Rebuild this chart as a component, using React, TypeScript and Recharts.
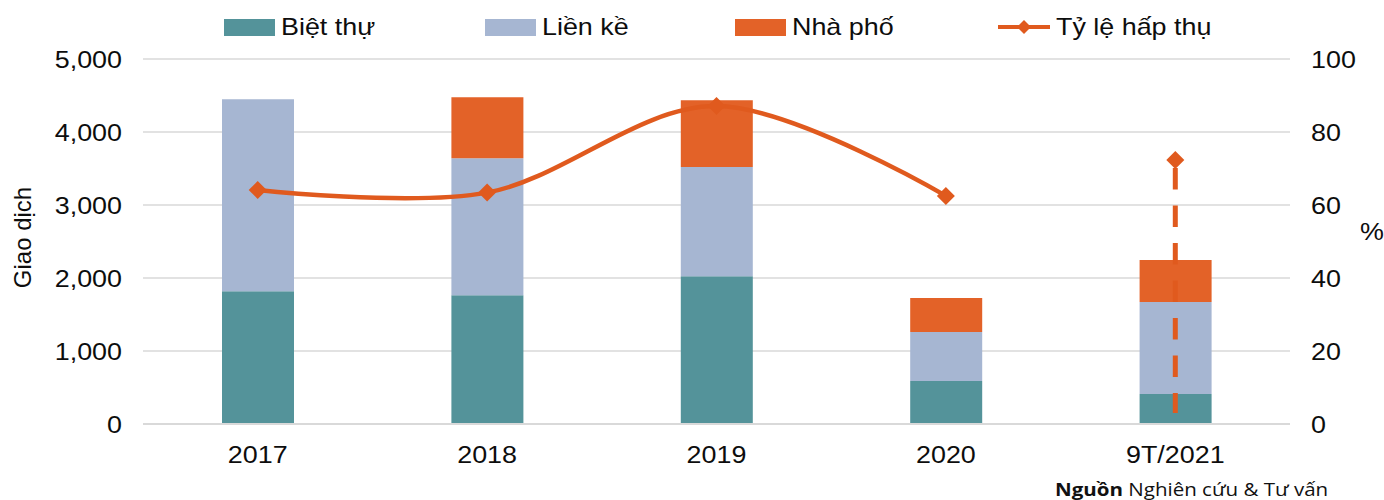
import {
  ComposedChart,
  Bar,
  Line,
  XAxis,
  YAxis,
  CartesianGrid,
  Legend,
  ReferenceLine,
} from "recharts";

// số liệu
const categories = ["2017", "2018", "2019", "2020", "9T/2021"];
const bietThu = [1820, 1765, 2025, 590, 410];
const lienKe = [2630, 1875, 1495, 670, 1260];
const nhaPho = [0, 835, 915, 465, 575];
const tyLeHapThu = [64.1, 63.4, 87.1, 62.5, null];
const tyLe2021 = [null, null, null, null, 72.3];
const tyLe2021Low = 3;

const leftTicks = [0, 1000, 2000, 3000, 4000, 5000];
const rightTicks = [0, 20, 40, 60, 80, 100];

const TEAL = "#54939A";
const BLUE = "#A6B6D2";
const ORANGE = "#E36228";
const LINE = "#E05A1E";
const FONT = "'Liberation Sans', Arial, sans-serif";
const SX = 1.12; // chữ trong ảnh gốc hơi bị kéo giãn ngang

const data = categories.map((name, i) => ({
  name,
  bietThu: bietThu[i],
  lienKe: lienKe[i],
  nhaPho: nhaPho[i],
  tyLe: tyLeHapThu[i],
  tyLe2021: tyLe2021[i],
}));

// đường cong kiểu cardinal (giống smooth line của Excel)
function cardinalCurve(context: any) {
  const k = 1 / 6;
  let x0 = NaN, x1 = NaN, x2 = NaN, y0 = NaN, y1 = NaN, y2 = NaN;
  let pt = 0;
  let line = NaN;
  const seg = (x: number, y: number) => {
    context.bezierCurveTo(
      x1 + k * (x2 - x0),
      y1 + k * (y2 - y0),
      x2 + k * (x1 - x),
      y2 + k * (y1 - y),
      x2,
      y2
    );
  };
  return {
    areaStart() { line = 0; },
    areaEnd() { line = NaN; },
    lineStart() {
      x0 = x1 = x2 = y0 = y1 = y2 = NaN;
      pt = 0;
    },
    lineEnd() {
      if (pt === 2) context.lineTo(x2, y2);
      else if (pt === 3) seg(x1, y1);
      if (line || (line !== 0 && pt === 1)) context.closePath();
      line = 1 - line;
    },
    point(x: number, y: number) {
      x = +x; y = +y;
      if (pt === 0) {
        pt = 1;
        line ? context.lineTo(x, y) : context.moveTo(x, y);
      } else if (pt === 1) {
        pt = 2;
        x1 = x; y1 = y;
      } else {
        pt = 3;
        seg(x, y);
      }
      x0 = x1; x1 = x2; x2 = x;
      y0 = y1; y1 = y2; y2 = y;
    },
  };
}

const Diamond = (props: any) => {
  const { cx, cy, value, index } = props;
  if (cx == null || cy == null || value == null) return <g key={index} />;
  const r = 9;
  return (
    <path
      key={index}
      d={`M${cx},${cy - r}L${cx + r},${cy}L${cx},${cy + r}L${cx - r},${cy}Z`}
      fill={LINE}
    />
  );
};

const textStyle = { fontFamily: FONT, fontSize: 24, fill: "#0d0d0d" };

const makeTick = (anchor: "start" | "end" | "middle", fmt?: (v: any) => string) => (props: any) => {
  const { x, y, payload } = props;
  const v = fmt ? fmt(payload.value) : String(payload.value);
  return (
    <text
      transform={`translate(${x},${y}) scale(${SX},1)`}
      x={0}
      y={0}
      textAnchor={anchor}
      dy={anchor === "middle" ? "0.71em" : "0.36em"}
      style={textStyle}
    >
      {v}
    </text>
  );
};

const legendLeft: Record<string, number> = {
  "Biệt thự": 224,
  "Liền kề": 485,
  "Nhà phố": 735,
  "Tỷ lệ hấp thụ": 998,
};

// chú thích tự vẽ cho giống Excel
const renderLegend = (props: any) => {
  const items = (props.payload || []).filter((p: any) => p.value !== "_2021");
  return (
    <div style={{ position: "relative", width: 1384, height: 59, fontFamily: FONT, fontSize: 24, color: "#0d0d0d" }}>
      {items.map((item: any) => (
        <div
          key={item.value}
          style={{
            position: "absolute",
            left: legendLeft[item.value] ?? 0,
            top: 12,
            height: 30,
            display: "flex",
            alignItems: "center",
            whiteSpace: "nowrap",
          }}
        >
          {item.type === "line" ? (
            <svg width={52} height={20}>
              <line x1={0} y1={10} x2={52} y2={10} stroke={LINE} strokeWidth={4} />
              <path d="M26,3L33,10L26,17L19,10Z" fill={LINE} />
            </svg>
          ) : (
            <div style={{ width: 51, height: 17, background: item.color }} />
          )}
          <span
            style={{
              marginLeft: 6,
              display: "inline-block",
              transform: `scaleX(${SX})`,
              transformOrigin: "left center",
            }}
          >
            {item.value}
          </span>
        </div>
      ))}
    </div>
  );
};

export default function App() {
  return (
    <div style={{ position: "relative", width: 1384, height: 500, background: "#fff" }}>
      <style>{`body{margin:0}`}</style>
      <ComposedChart
        width={1384}
        height={500}
        data={data}
        margin={{ top: 0, right: 0, bottom: 16, left: 0 }}
        barCategoryGap={0}
      >
        <CartesianGrid vertical={false} stroke="#D9D9D9" strokeWidth={1.5} yAxisId="left" />
        <XAxis
          dataKey="name"
          height={60}
          axisLine={{ stroke: "#D9D9D9", strokeWidth: 2 }}
          tickLine={false}
          tickSize={0}
          tickMargin={22}
          tick={makeTick("middle")}
        />
        <YAxis
          yAxisId="left"
          width={143}
          domain={[0, 5000]}
          ticks={leftTicks}
          axisLine={false}
          tickLine={false}
          tickSize={0}
          tickMargin={21}
          tick={makeTick("end", (v: number) => v.toLocaleString("en-US"))}
          label={{
            content: (p: any) => {
              const vb = p.viewBox || {};
              const x = (vb.x || 0) + 22;
              const y = (vb.y || 0) + (vb.height || 0) / 2 - 4;
              return (
                <text
                  x={x}
                  y={y}
                  transform={`rotate(-90 ${x} ${y})`}
                  textAnchor="middle"
                  dominantBaseline="central"
                  style={textStyle}
                >
                  Giao dịch
                </text>
              );
            },
          }}
        />
        <YAxis
          yAxisId="right"
          orientation="right"
          width={94}
          domain={[0, 100]}
          ticks={rightTicks}
          axisLine={false}
          tickLine={false}
          tickSize={0}
          tickMargin={21}
          tick={makeTick("start")}
          label={{
            content: (p: any) => {
              const vb = p.viewBox || {};
              const x = (vb.x || 0) + (vb.width || 0) - 12;
              const y = (vb.y || 0) + (vb.height || 0) / 2 - 10;
              return (
                <text
                  transform={`translate(${x},${y}) scale(${SX},1)`}
                  textAnchor="middle"
                  dominantBaseline="central"
                  style={textStyle}
                >
                  %
                </text>
              );
            },
          }}
        />
        <Legend verticalAlign="top" content={renderLegend} />
        <Bar yAxisId="left" dataKey="bietThu" name="Biệt thự" stackId="a" fill={TEAL} barSize={72} isAnimationActive={false} />
        <Bar yAxisId="left" dataKey="lienKe" name="Liền kề" stackId="a" fill={BLUE} barSize={72} isAnimationActive={false} />
        <Bar yAxisId="left" dataKey="nhaPho" name="Nhà phố" stackId="a" fill={ORANGE} barSize={72} isAnimationActive={false} />
        <Line
          yAxisId="right"
          dataKey="tyLe"
          name="Tỷ lệ hấp thụ"
          type={cardinalCurve as any}
          stroke={LINE}
          strokeWidth={4.5}
          dot={Diamond}
          activeDot={false}
          legendType="line"
          isAnimationActive={false}
        />
        <ReferenceLine
          yAxisId="right"
          segment={[
            { x: "9T/2021", y: tyLe2021[4] as number },
            { x: "9T/2021", y: tyLe2021Low },
          ]}
          stroke={LINE}
          strokeWidth={5}
          strokeDasharray="21.5 16"
          strokeDashoffset={-8}
        />
        <Line
          yAxisId="right"
          dataKey="tyLe2021"
          name="_2021"
          stroke={LINE}
          strokeWidth={0}
          dot={Diamond}
          activeDot={false}
          isAnimationActive={false}
        />
      </ComposedChart>
      <div
        style={{
          position: "absolute",
          left: 1055,
          top: 477,
          fontFamily: "'Open Sans', 'Noto Sans', sans-serif",
          fontSize: 18,
          color: "#111",
          whiteSpace: "nowrap",
          transform: "scaleX(1.14)",
          transformOrigin: "left center",
        }}
      >
        <b>Nguồn</b> Nghiên cứu &amp; Tư vấn
      </div>
    </div>
  );
}
